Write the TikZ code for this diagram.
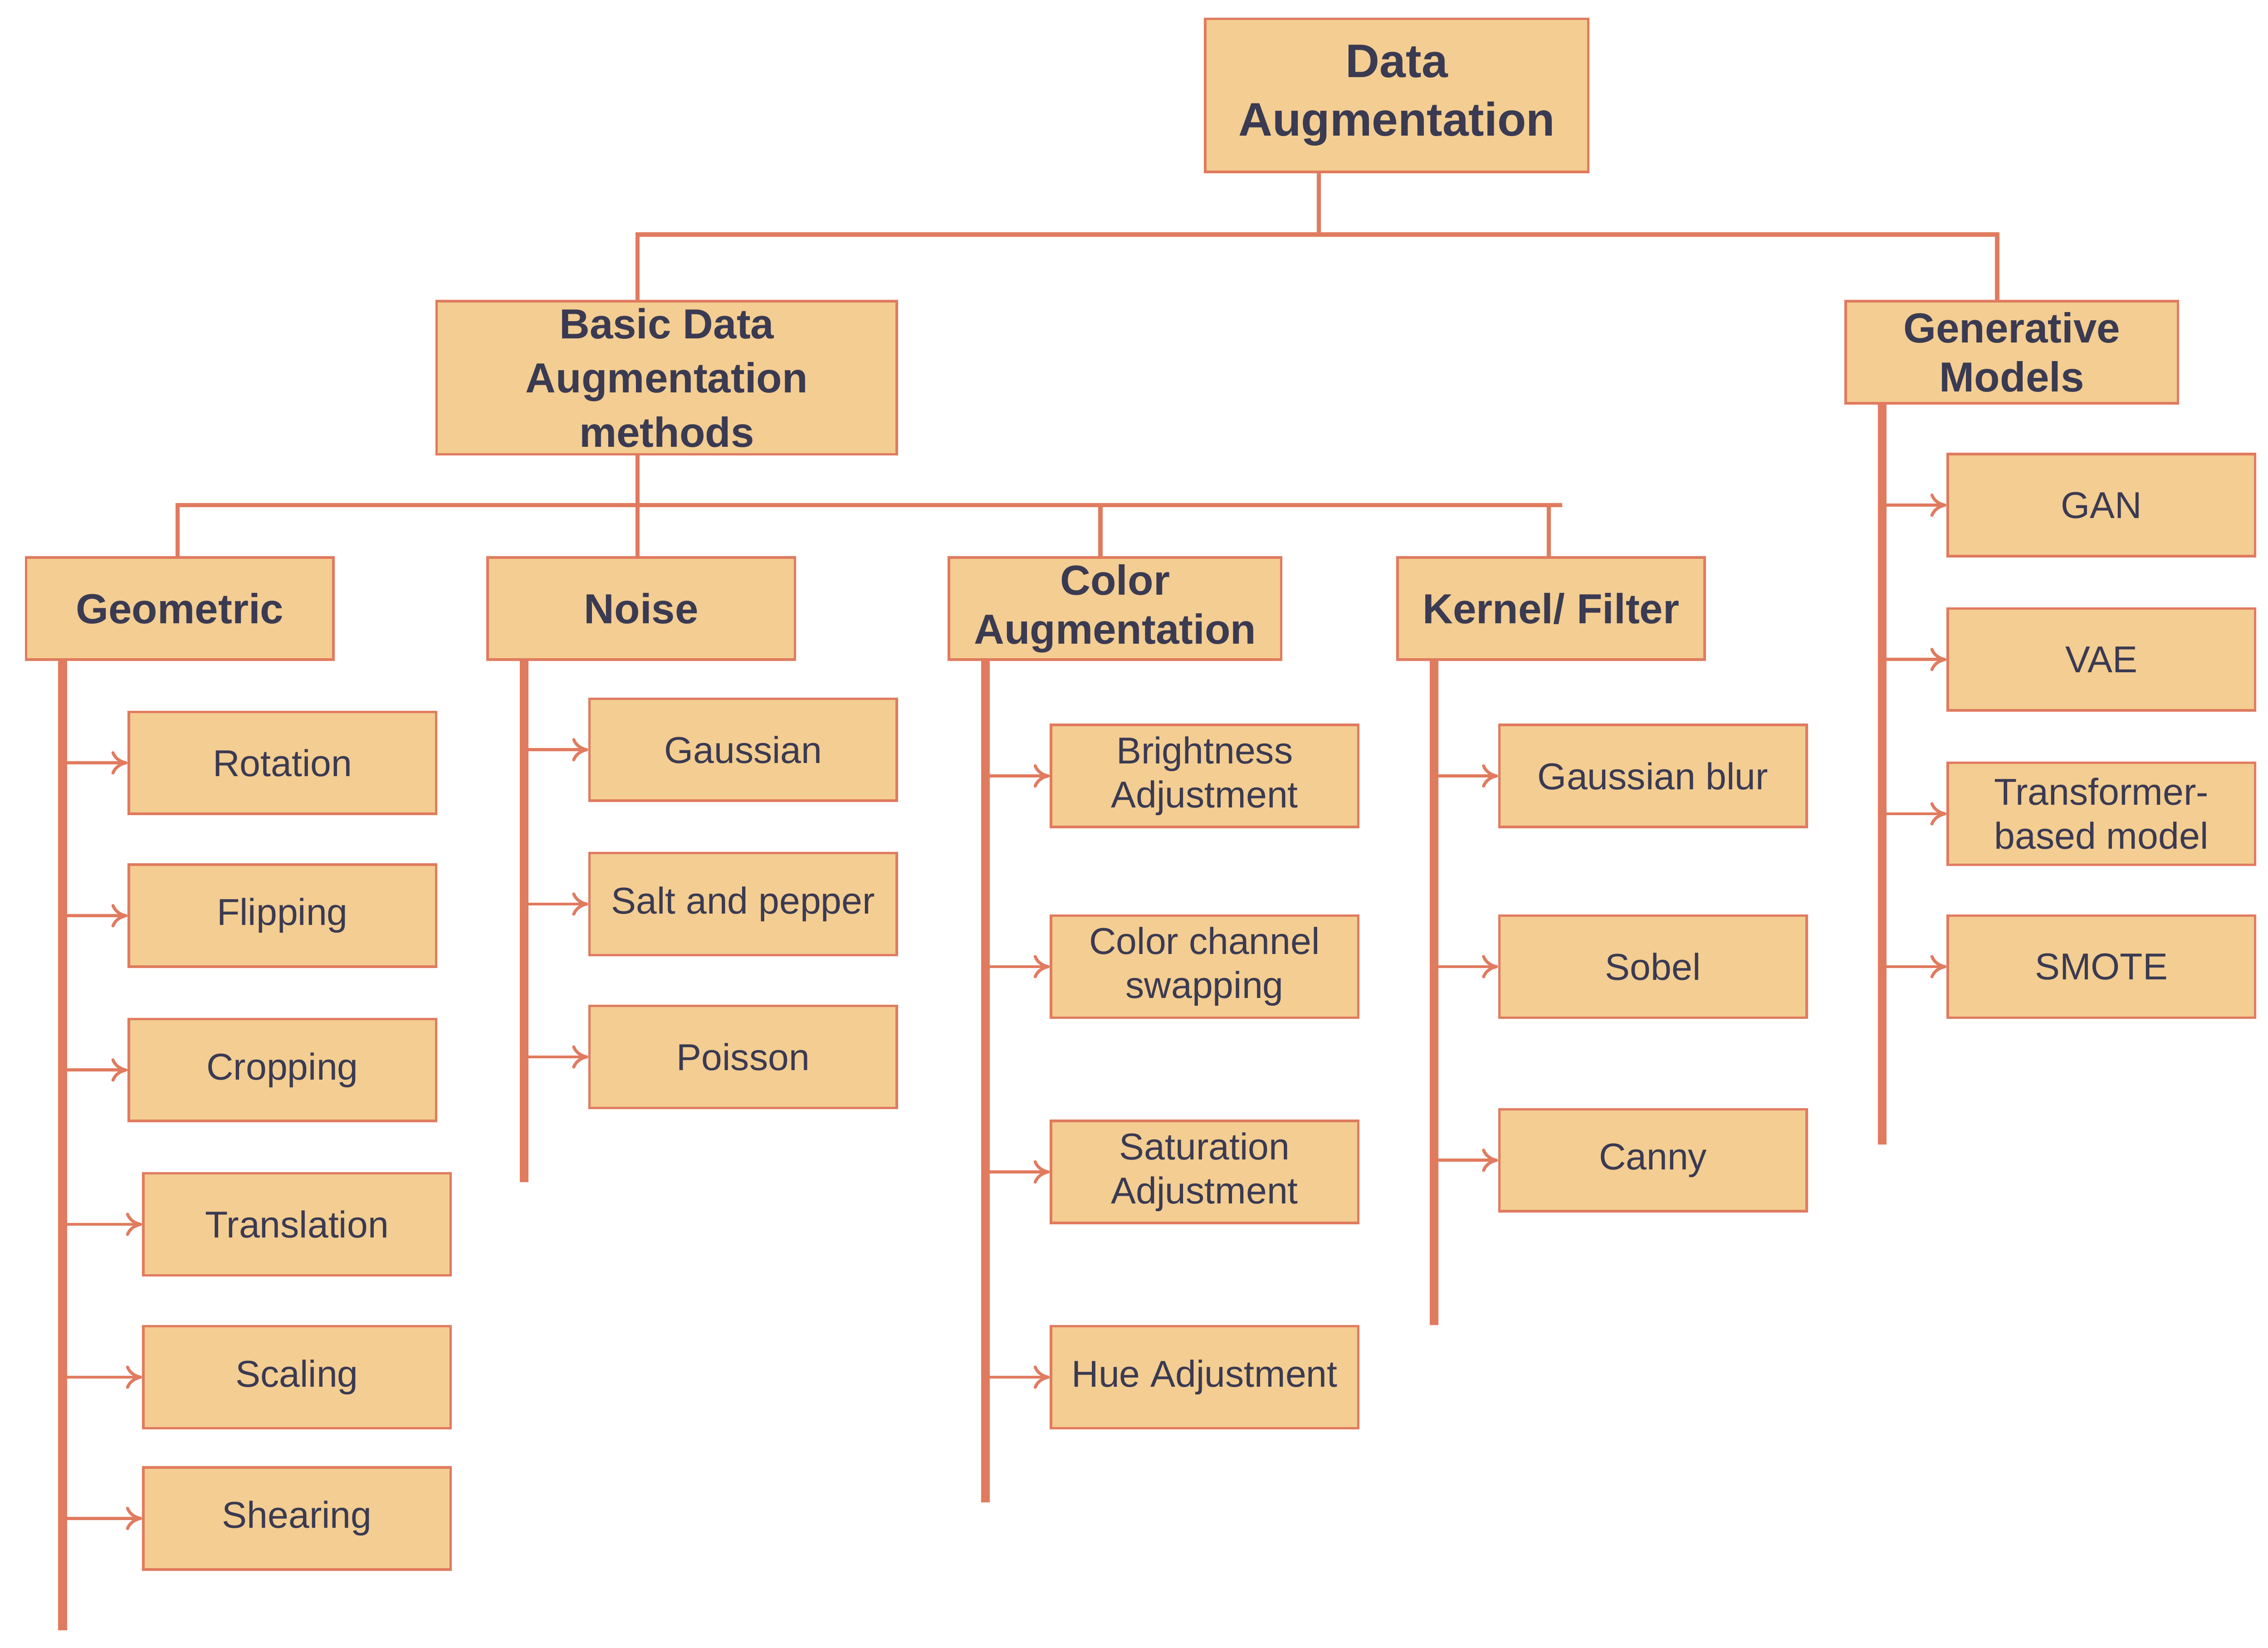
\documentclass[tikz,border=0pt]{standalone}
\usepackage{fontspec}
\setmainfont{Liberation Sans}
\usetikzlibrary{arrows.meta}
\definecolor{bfill}{HTML}{F3CD91}
\definecolor{bline}{HTML}{E07B5F}
\definecolor{btext}{HTML}{3A3A52}
\tikzset{
 box/.style={draw=bline,fill=bfill,line width=0.5pt,text=btext,align=center,inner sep=1pt,minimum width=2.11cm,minimum height=0.70cm,font=\fontsize{7.3}{8.6}\selectfont},
 head/.style={box,font=\bfseries\fontsize{8.2}{9.6}\selectfont},
 conn/.style={draw=bline,line width=0.85pt},
 bar/.style={draw=bline,line width=1.7pt},
 arr/.style={draw=bline,line width=0.6pt,-{To[length=1.1mm,width=1.6mm]}}
}
\begin{document}
\begin{tikzpicture}[x=0.01cm,y=-0.01cm]
\useasboundingbox (0,0) rectangle (1558,1132);
\node[head,minimum width=2.63cm,minimum height=1.05cm,font=\bfseries\fontsize{9.2}{11.5}\selectfont] (da) at (959.5,65.5) {Data\\Augmentation};
\node[head,minimum width=3.16cm,minimum height=1.05cm,font=\bfseries\fontsize{8.2}{10.6}\selectfont] (basic) at (458,259.5) {Basic Data\\Augmentation\\methods};
\node[head,minimum width=2.28cm] (gen) at (1382,242) {Generative\\Models};
\node[head] (geo) at (123.5,418) {Geometric};
\node[head] (noise) at (440.5,418) {Noise};
\node[head,minimum width=2.28cm] (col) at (766,418) {Color\\Augmentation};
\node[head] (ker) at (1065.5,418) {Kernel/ Filter};
% top connectors
\coordinate (j1) at (906,161);
\draw[conn] (906,118) -- (j1);
\draw[conn] (438,207) |- (j1) -| (1372,207);
\coordinate (j2) at (438,347);
\draw[conn] (438,312) -- (438,383);
\draw[conn] (122,383) |- (1073,347);
\draw[conn] (756,347) -- (756,383);
\draw[conn] (1064,347) -- (1064,383);
% geometric
\coordinate (gt) at (43,453); \coordinate (gb) at (43,1120);
\draw[bar] (gt) -- (gb);
\node[box] (g1) at (194,524) {Rotation};
\node[box] (g2) at (194,629) {Flipping};
\node[box] (g3) at (194,735) {Cropping};
\node[box] (g4) at (204,841) {Translation};
\node[box] (g5) at (204,946) {Scaling};
\node[box] (g6) at (204,1043) {Shearing};
\foreach \n in {g1,g2,g3,g4,g5,g6} \draw[arr] (\n.west -| gt) -- (\n.west);
% noise
\coordinate (nt) at (360,453); \coordinate (nb) at (360,812);
\draw[bar] (nt) -- (nb);
\node[box] (n1) at (510.5,515) {Gaussian};
\node[box] (n2) at (510.5,621) {Salt and pepper};
\node[box] (n3) at (510.5,726) {Poisson};
\foreach \n in {n1,n2,n3} \draw[arr] (\n.west -| nt) -- (\n.west);
% color
\coordinate (ct) at (677,453); \coordinate (cb) at (677,1032);
\draw[bar] (ct) -- (cb);
\node[box] (c1) at (827.5,533) {Brightness\\Adjustment};
\node[box] (c2) at (827.5,664) {Color channel\\swapping};
\node[box] (c3) at (827.5,805) {Saturation\\Adjustment};
\node[box] (c4) at (827.5,946) {Hue Adjustment};
\foreach \n in {c1,c2,c3,c4} \draw[arr] (\n.west -| ct) -- (\n.west);
% kernel
\coordinate (kt) at (985,453); \coordinate (kb) at (985,910);
\draw[bar] (kt) -- (kb);
\node[box] (k1) at (1135.5,533) {Gaussian blur};
\node[box] (k2) at (1135.5,664) {Sobel};
\node[box] (k3) at (1135.5,797) {Canny};
\foreach \n in {k1,k2,k3} \draw[arr] (\n.west -| kt) -- (\n.west);
% generative
\coordinate (vt) at (1293,277); \coordinate (vb) at (1293,786);
\draw[bar] (vt) -- (vb);
\node[box] (v1) at (1443.5,347) {GAN};
\node[box] (v2) at (1443.5,453) {VAE};
\node[box] (v3) at (1443.5,559) {Transformer-\\based model};
\node[box] (v4) at (1443.5,664) {SMOTE};
\foreach \n in {v1,v2,v3,v4} \draw[arr] (\n.west -| vt) -- (\n.west);
\end{tikzpicture}
\end{document}
